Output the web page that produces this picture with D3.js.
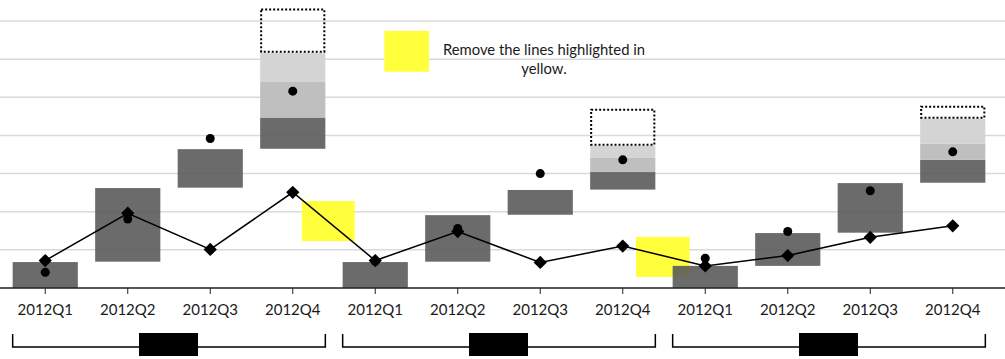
<!DOCTYPE html>
<html>
<head>
<meta charset="utf-8">
<script src="https://cdn.jsdelivr.net/npm/d3@7"></script>
<style>
  body { margin: 0; background: #fff; }
  svg { display: block; }
  text { font-family: Lato, "Open Sans", sans-serif; fill: #1a1a1a; }
</style>
</head>
<body>
<svg id="chart"></svg>
<script>
// categories, three groups of four quarters
const quarters = ["2012Q1", "2012Q2", "2012Q3", "2012Q4",
                  "2012Q1", "2012Q2", "2012Q3", "2012Q4",
                  "2012Q1", "2012Q2", "2012Q3", "2012Q4"];
const groupOf = [0, 0, 0, 0, 1, 1, 1, 1, 2, 2, 2, 2];

// floating dark bars (low / high)
const barLow  = [0, 0.69, 2.63, 3.65, 0, 0.69, 1.92, 2.58, 0, 0.58, 1.45, 2.76];
const barHigh = [0.68, 2.62, 3.64, 4.47, 0.68, 1.91, 2.57, 3.04, 0.58, 1.44, 2.75, 3.36];

// extra bands on top of the Q4 bars
const midHigh    = [null, null, null, 5.40, null, null, null, 3.41, null, null, null, 3.78];
const lightHigh  = [null, null, null, 6.17, null, null, null, 3.73, null, null, null, 4.44];
const dottedHigh = [null, null, null, 7.33, null, null, null, 4.70, null, null, null, 4.78];

// markers
const dots     = [0.41, 1.81, 3.92, 5.16, 0.70, 1.56, 3.00, 3.36, 0.78, 1.48, 2.55, 3.57];
const diamonds = [0.72, 1.96, 1.01, 2.51, 0.72, 1.48, 0.67, 1.10, 0.58, 0.85, 1.33, 1.63];

// yellow highlight boxes, in category index / value units
const highlightX0 = [3.11, 7.16, 4.11];
const highlightX1 = [3.75, 7.81, 4.65];
const highlightY0 = [1.23, 0.29, 5.67];
const highlightY1 = [2.28, 1.34, 6.74];

const gridTicks = [1, 2, 3, 4, 5, 6, 7];
const note = ["Remove the lines highlighted in", "yellow."];

const width = 1005, height = 359;
const baseY = 288;

const svg = d3.select('#chart')
    .attr('width', width)
    .attr('height', height);

const x = d3.scaleBand()
    .domain(d3.range(quarters.length))
    .range([4, 994])
    .paddingInner(0.21)
    .paddingOuter(0.105);

const y = d3.scaleLinear()
    .domain([0, 7])
    .range([baseY, 21]);

// category index -> pixel, for the annotation boxes
const xi = d3.scaleLinear()
    .domain([0, quarters.length - 1])
    .range([x(0) + x.bandwidth() / 2, x(quarters.length - 1) + x.bandwidth() / 2]);

// gridlines
svg.append('g')
    .selectAll('line')
    .data(gridTicks)
    .join('line')
    .attr('x1', 0)
    .attr('x2', width)
    .attr('y1', d => y(d))
    .attr('y2', d => y(d))
    .attr('stroke', '#d9d9d9')
    .attr('stroke-width', 1.5);

// yellow highlights
svg.append('g')
    .selectAll('rect')
    .data(highlightX0)
    .join('rect')
    .attr('x', (d, i) => xi(d))
    .attr('width', (d, i) => xi(highlightX1[i]) - xi(d))
    .attr('y', (d, i) => y(highlightY1[i]))
    .attr('height', (d, i) => y(highlightY0[i]) - y(highlightY1[i]))
    .attr('fill', '#ffff3c');

const idx = d3.range(quarters.length);
const bars = svg.append('g');

// dark bars, a touch see-through so the yellow shows under them
bars.selectAll('rect.dark')
    .data(idx)
    .join('rect')
    .attr('class', 'dark')
    .attr('x', i => x(i))
    .attr('width', x.bandwidth())
    .attr('y', i => y(barHigh[i]))
    .attr('height', i => y(barLow[i]) - y(barHigh[i]))
    .attr('fill', '#5b5b5b')
    .attr('fill-opacity', 0.9);

const q4 = idx.filter(i => midHigh[i] != null);

bars.selectAll('rect.mid')
    .data(q4)
    .join('rect')
    .attr('class', 'mid')
    .attr('x', i => x(i))
    .attr('width', x.bandwidth())
    .attr('y', i => y(midHigh[i]))
    .attr('height', i => y(barHigh[i]) - y(midHigh[i]))
    .attr('fill', '#bfbfbf');

bars.selectAll('rect.light')
    .data(q4)
    .join('rect')
    .attr('class', 'light')
    .attr('x', i => x(i))
    .attr('width', x.bandwidth())
    .attr('y', i => y(lightHigh[i]))
    .attr('height', i => y(midHigh[i]) - y(lightHigh[i]))
    .attr('fill', '#d4d4d4');

bars.selectAll('rect.dotted')
    .data(q4)
    .join('rect')
    .attr('class', 'dotted')
    .attr('x', i => x(i) + 1)
    .attr('width', x.bandwidth() - 2)
    .attr('y', i => y(dottedHigh[i]) + 1)
    .attr('height', i => y(lightHigh[i]) - y(dottedHigh[i]) - 2)
    .attr('fill', 'none')
    .attr('stroke', '#000')
    .attr('stroke-width', 2)
    .attr('stroke-dasharray', '2,2');

// axis line and ticks
const axis = svg.append('g')
    .attr('transform', `translate(0,${baseY})`);

axis.append('line')
    .attr('x1', 0)
    .attr('x2', width)
    .attr('stroke', '#222')
    .attr('stroke-width', 1.5);

axis.selectAll('line.tick')
    .data(idx)
    .join('line')
    .attr('class', 'tick')
    .attr('x1', i => x(i) + x.bandwidth() / 2)
    .attr('x2', i => x(i) + x.bandwidth() / 2)
    .attr('y1', 0)
    .attr('y2', 6)
    .attr('stroke', '#222')
    .attr('stroke-width', 1);

axis.selectAll('text')
    .data(idx)
    .join('text')
    .attr('x', i => x(i) + x.bandwidth() / 2)
    .attr('y', 27)
    .attr('text-anchor', 'middle')
    .attr('font-size', 15)
    .text(i => quarters[i]);

// the connecting line with diamond markers
const line = d3.line()
    .x(i => x(i) + x.bandwidth() / 2)
    .y(i => y(diamonds[i]));

svg.append('path')
    .datum(idx)
    .attr('d', line)
    .attr('fill', 'none')
    .attr('stroke', '#000')
    .attr('stroke-width', 1.5);

svg.append('g')
    .selectAll('circle')
    .data(idx)
    .join('circle')
    .attr('cx', i => x(i) + x.bandwidth() / 2)
    .attr('cy', i => y(dots[i]))
    .attr('r', 4.5)
    .attr('fill', '#000');

svg.append('g')
    .selectAll('path')
    .data(idx)
    .join('path')
    .attr('d', d3.symbol(d3.symbolSquare, 88))
    .attr('transform', i => `translate(${x(i) + x.bandwidth() / 2},${y(diamonds[i])}) rotate(45)`)
    .attr('fill', '#000');

// group brackets with blacked-out labels
const groups = d3.groups(idx, i => groupOf[i]);
const brackets = svg.append('g');
groups.forEach(([g, members]) => {
    const x0 = x(members[0]);
    const x1 = x(members[members.length - 1]) + x.bandwidth();
    const mid = (x0 + x1) / 2;
    brackets.append('path')
        .attr('d', `M${x0},334V347H${x1}V334`)
        .attr('fill', 'none')
        .attr('stroke', '#000')
        .attr('stroke-width', 1.5);
    brackets.append('rect')
        .attr('x', mid - 30)
        .attr('y', 333)
        .attr('width', 59)
        .attr('height', 23)
        .attr('fill', '#000');
});

// note text
svg.append('g')
    .selectAll('text')
    .data(note)
    .join('text')
    .attr('x', 544)
    .attr('y', (d, i) => 55 + i * 19)
    .attr('text-anchor', 'middle')
    .attr('font-size', 14.8)
    .text(d => d);
</script>
</body>
</html>
